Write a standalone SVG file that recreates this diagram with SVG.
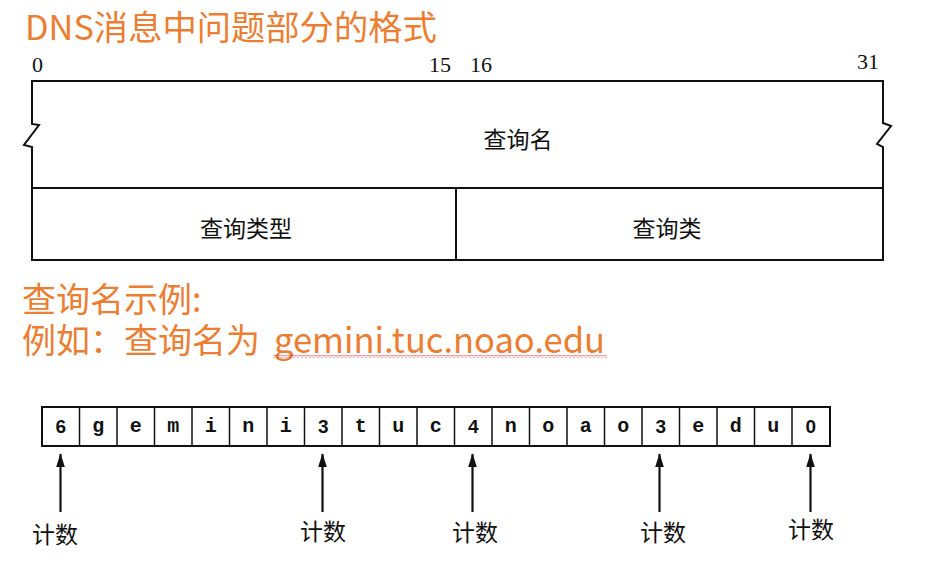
<svg xmlns="http://www.w3.org/2000/svg" width="929" height="563" viewBox="0 0 929 563">
<style>
.orange{fill:#ED7D31;font-family:"Noto Sans CJK SC","Noto Sans",sans-serif;}
.bit{fill:#111;font-family:"Liberation Serif",serif;font-size:22px;}
.lbl{fill:#111;font-family:"Noto Sans CJK SC",sans-serif;font-size:23px;text-anchor:middle;}
.cnt{fill:#111;font-family:"Noto Sans CJK SC",sans-serif;font-size:23px;text-anchor:middle;}
.ch{fill:#111;font-family:"Liberation Mono",monospace;font-size:20px;font-weight:bold;text-anchor:middle;}
.num{fill:#111;font-family:"Liberation Sans",sans-serif;font-size:19px;font-weight:bold;text-anchor:middle;}
.ln{fill:none;stroke:#111;stroke-width:2;}
.thin{fill:none;stroke:#111;stroke-width:1.5;}
.arr{stroke:#111;stroke-width:2.2;marker-end:url(#ah);}
</style>
<defs>
<marker id="ah" markerUnits="userSpaceOnUse" markerWidth="14" markerHeight="24" viewBox="0 0 22 14" refX="21" refY="7" orient="auto">
<path d="M0,0 L22,7 L0,14 Z" fill="#111"/>
</marker>
<pattern id="squig" width="4" height="3" patternUnits="userSpaceOnUse">
<path d="M0,2.5 L2,0.5 L4,2.5" fill="none" stroke="#e23" stroke-width="0.9"/>
</pattern>
</defs>
<rect width="929" height="563" fill="#fff"/>

<text id="title" class="orange" x="25" y="40" font-size="34.3">DNS消息中问题部分的格式</text>

<g id="bit-labels">
<text class="bit" x="32" y="72">0</text>
<text class="bit" x="429" y="72">15</text>
<text class="bit" x="470" y="72">16</text>
<text class="bit" x="857" y="69">31</text>
</g>

<g id="question-format">
<path class="ln" d="M32,81 H883 V123 L891,126 L877,144 L883,147 V260 H32 V147 L24,145 L39,125 L32,124 Z"/>
<line class="ln" x1="32" y1="188" x2="883" y2="188"/>
<line class="ln" x1="456" y1="188" x2="456" y2="260"/>
</g>
<g id="qname"><text class="lbl" x="518" y="148">查询名</text></g>
<g id="qtype"><text class="lbl" x="246" y="237">查询类型</text></g>
<g id="qclass"><text class="lbl" x="667" y="237">查询类</text></g>

<g id="example-text">
<text class="orange" x="22" y="312" font-size="34">查询名示例:</text>
<text class="orange" x="22" y="353" font-size="34">例如：查询名为</text>
<text class="orange" x="274" y="353" font-size="35" textLength="331" lengthAdjust="spacingAndGlyphs">gemini.tuc.noao.edu</text>
<rect x="273" y="355" width="334" height="3" fill="url(#squig)"/>
</g>

<g id="byte-row">
<rect class="ln" x="42" y="407" width="788" height="39"/>
<g class="thin">
<line x1="79.5" y1="407" x2="79.5" y2="446"/>
<line x1="117" y1="407" x2="117" y2="446"/>
<line x1="154.5" y1="407" x2="154.5" y2="446"/>
<line x1="192" y1="407" x2="192" y2="446"/>
<line x1="229.5" y1="407" x2="229.5" y2="446"/>
<line x1="267" y1="407" x2="267" y2="446"/>
<line x1="304.5" y1="407" x2="304.5" y2="446"/>
<line x1="342" y1="407" x2="342" y2="446"/>
<line x1="379.5" y1="407" x2="379.5" y2="446"/>
<line x1="417" y1="407" x2="417" y2="446"/>
<line x1="454.5" y1="407" x2="454.5" y2="446"/>
<line x1="492" y1="407" x2="492" y2="446"/>
<line x1="529.5" y1="407" x2="529.5" y2="446"/>
<line x1="567" y1="407" x2="567" y2="446"/>
<line x1="604.5" y1="407" x2="604.5" y2="446"/>
<line x1="642" y1="407" x2="642" y2="446"/>
<line x1="679.5" y1="407" x2="679.5" y2="446"/>
<line x1="717" y1="407" x2="717" y2="446"/>
<line x1="754.5" y1="407" x2="754.5" y2="446"/>
<line x1="792" y1="407" x2="792" y2="446"/>
</g>
<text class="num" x="60.75" y="433">6</text>
<text class="ch" x="98.25" y="432">g</text>
<text class="ch" x="135.75" y="432">e</text>
<text class="ch" x="173.25" y="432">m</text>
<text class="ch" x="210.75" y="432">i</text>
<text class="ch" x="248.25" y="432">n</text>
<text class="ch" x="285.75" y="432">i</text>
<text class="num" x="323.25" y="433">3</text>
<text class="ch" x="360.75" y="432">t</text>
<text class="ch" x="398.25" y="432">u</text>
<text class="ch" x="435.75" y="432">c</text>
<text class="num" x="473.25" y="433">4</text>
<text class="ch" x="510.75" y="432">n</text>
<text class="ch" x="548.25" y="432">o</text>
<text class="ch" x="585.75" y="432">a</text>
<text class="ch" x="623.25" y="432">o</text>
<text class="num" x="660.75" y="433">3</text>
<text class="ch" x="698.25" y="432">e</text>
<text class="ch" x="735.75" y="432">d</text>
<text class="ch" x="773.25" y="432">u</text>
<text class="num" x="810.75" y="433">0</text>
</g>

<g id="connectors">
<line class="arr" x1="60.5" y1="512" x2="60.5" y2="454"/>
<line class="arr" x1="322.5" y1="512" x2="322.5" y2="454"/>
<line class="arr" x1="472.5" y1="512" x2="472.5" y2="454"/>
<line class="arr" x1="659.5" y1="512" x2="659.5" y2="454"/>
<line class="arr" x1="810.5" y1="512" x2="810.5" y2="454"/>
</g>

<g id="count-labels">
<text class="cnt" x="55" y="543">计数</text>
<text class="cnt" x="323" y="540">计数</text>
<text class="cnt" x="475" y="541">计数</text>
<text class="cnt" x="663" y="541">计数</text>
<text class="cnt" x="811" y="538">计数</text>
</g>
</svg>
